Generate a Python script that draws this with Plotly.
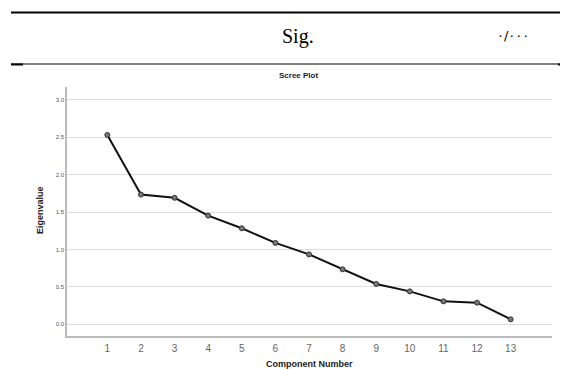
import plotly.graph_objects as go

components = list(range(1, 14))
eigenvalues = [2.53, 1.733, 1.69, 1.452, 1.283, 1.087, 0.934, 0.735, 0.539, 0.44, 0.307, 0.289, 0.067]
y_ticks = [0.0, 0.5, 1.0, 1.5, 2.0, 2.5, 3.0]

OFF = 8  # page body margin
W, H = 568 - OFF, 369 - OFF
L, R, T, B = 67 - OFF, 552 - OFF, 87 - OFF, 336 - OFF

def xp(px):
    return (px - OFF - L) / (R - L)

def yp(py):
    return (B - (py - OFF)) / (B - T)

fig = go.Figure()
fig.add_trace(go.Scatter(
    x=components, y=eigenvalues, mode="lines+markers",
    line=dict(color="#111111", width=2),
    marker=dict(size=5, color="#777777", line=dict(color="#333333", width=1)),
    showlegend=False, hoverinfo="x+y",
))

shapes = [
    dict(type="line", xref="paper", yref="paper", x0=xp(11), x1=xp(568), y0=yp(12.5), y1=yp(12.5),
         line=dict(color="black", width=2)),
    dict(type="line", xref="paper", yref="paper", x0=xp(11), x1=xp(568), y0=yp(64), y1=yp(64),
         line=dict(color="black", width=1.2)),
    dict(type="line", xref="paper", yref="paper", x0=xp(11), x1=xp(23), y0=yp(64.5), y1=yp(64.5),
         line=dict(color="black", width=2)),
    dict(type="line", xref="paper", yref="paper", x0=xp(558), x1=xp(568), y0=yp(64.5), y1=yp(64.5),
         line=dict(color="black", width=2)),
]

annotations = [
    dict(text="Sig.", xref="paper", yref="paper", x=xp(298), y=yp(37), showarrow=False,
         xanchor="center", yanchor="middle", font=dict(family="Liberation Serif", size=20, color="black")),
    dict(text="٠/٠٠٠", xref="paper", yref="paper", x=xp(513), y=yp(35), showarrow=False,
         xanchor="center", yanchor="middle", font=dict(family="DejaVu Sans", size=13, color="black")),
    dict(text="<b>Scree Plot</b>", xref="paper", yref="paper", x=xp(298), y=yp(75), showarrow=False,
         xanchor="center", yanchor="middle", font=dict(family="Liberation Sans", size=8, color="#222222")),
    dict(text="<b>Component Number</b>", xref="paper", yref="paper", x=0.5, y=yp(364), showarrow=False,
         xanchor="center", yanchor="middle", font=dict(family="Liberation Sans", size=9, color="#222222")),
    dict(text="<b>Eigenvalue</b>", xref="paper", yref="paper", x=xp(40), y=yp(210), showarrow=False,
         textangle=-90, xanchor="center", yanchor="middle", font=dict(family="Liberation Sans", size=9, color="#222222")),
]

fig.update_layout(
    width=W, height=H,
    margin=dict(l=L, r=W - R, t=T, b=H - B),
    paper_bgcolor="white", plot_bgcolor="white",
    shapes=shapes, annotations=annotations,
    xaxis=dict(range=[-0.2, 14.23], tickmode="array", tickvals=components,
               ticktext=[str(c) for c in components], showgrid=False, zeroline=False,
               showline=True, linecolor="#bbbbbb", linewidth=1.5, ticks="",
               tickfont=dict(family="Liberation Sans", size=10, color="#666666"), ticklabelstandoff=2),
    yaxis=dict(range=[-0.156, 3.17], tickmode="array", tickvals=y_ticks,
               ticktext=[f"{v:.1f}" for v in y_ticks], showgrid=True, gridcolor="#dddddd", gridwidth=1,
               zeroline=False, showline=True, linecolor="#bbbbbb", linewidth=1.5, ticks="",
               tickfont=dict(family="Liberation Sans", size=6, color="#555555")),
)

fig.write_html("out.html")
